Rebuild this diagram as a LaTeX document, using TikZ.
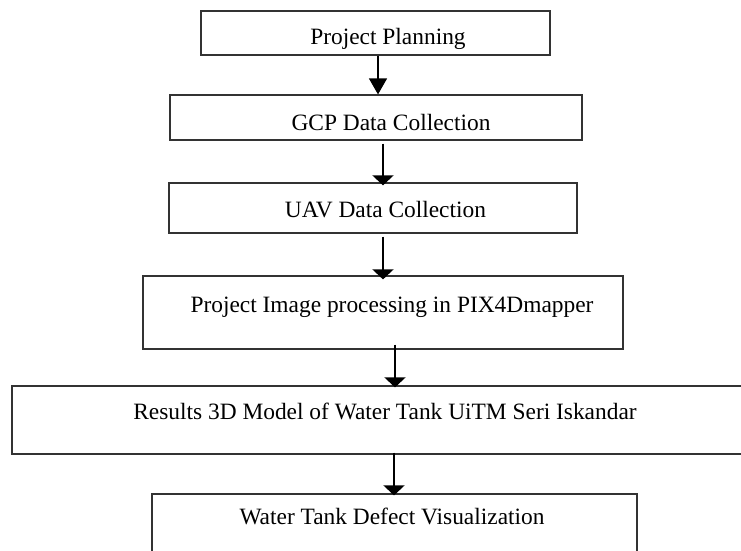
\documentclass[tikz,border=0pt]{standalone}
\usepackage{fontspec}
\setmainfont{Liberation Serif}
\usetikzlibrary{arrows.meta}
\begin{document}
\begin{tikzpicture}[x=1pt,y=-1pt,
  box/.style={draw=black!80,line width=1.2pt,rectangle,inner sep=0pt},
  lbl/.style={anchor=base,inner sep=0pt,font=\fontsize{23.4}{26}\selectfont},
  arr/.style={draw=black,line width=1.3pt,-{Triangle[width=21pt,length=10pt]}},
  arrlong/.style={draw=black,line width=1.3pt,-{Triangle[width=18pt,length=16pt]}}]
\useasboundingbox (0,0) rectangle (741,551);
\clip (0,0) rectangle (741,551);
\fill[white] (0,0) rectangle (741,551);
% boxes
\node[box,minimum width=349pt,minimum height=44pt] (b1) at (375.5,33) {};
\node[box,minimum width=412pt,minimum height=45pt] (b2) at (376,117.5) {};
\node[box,minimum width=408pt,minimum height=50pt] (b3) at (373,208) {};
\node[box,minimum width=480pt,minimum height=73pt] (b4) at (383,312.5) {};
\node[box,minimum width=748pt,minimum height=68pt] (b5) at (386,420) {};
\node[box,minimum width=485pt,minimum height=86pt] (b6) at (394.5,537) {};
% texts
\node[lbl] (t1) at (388,45) {Project Planning};
\node[lbl] (t2) at (391,130) {GCP Data Collection};
\node[lbl] (t3) at (385.5,217) {UAV Data Collection};
\node[lbl] (t4) at (392,312) {Project Image processing in PIX4Dmapper};
\node[lbl] (t5) at (385,419) {Results 3D Model of Water Tank UiTM Seri Iskandar};
\node[lbl] (t6) at (392,524) {Water Tank Defect Visualization};
% arrows
\draw[arrlong] ([xshift=2.5pt]b1.south) -- ([xshift=2pt]b2.north);
\draw[arr] ([xshift=7pt,yshift=-3pt]b2.south) -- ([xshift=10pt,yshift=-3pt]b3.north);
\draw[arr] ([xshift=10pt,yshift=-3pt]b3.south) -- ([yshift=-4pt]b4.north);
\draw[arr] ([xshift=12pt,yshift=5pt]b4.south) -- ([xshift=9pt,yshift=-2pt]b5.north);
\draw[arr] ([xshift=8pt,yshift=2pt]b5.south) -- ([xshift=-0.5pt,yshift=-2pt]b6.north);
\end{tikzpicture}
\end{document}
